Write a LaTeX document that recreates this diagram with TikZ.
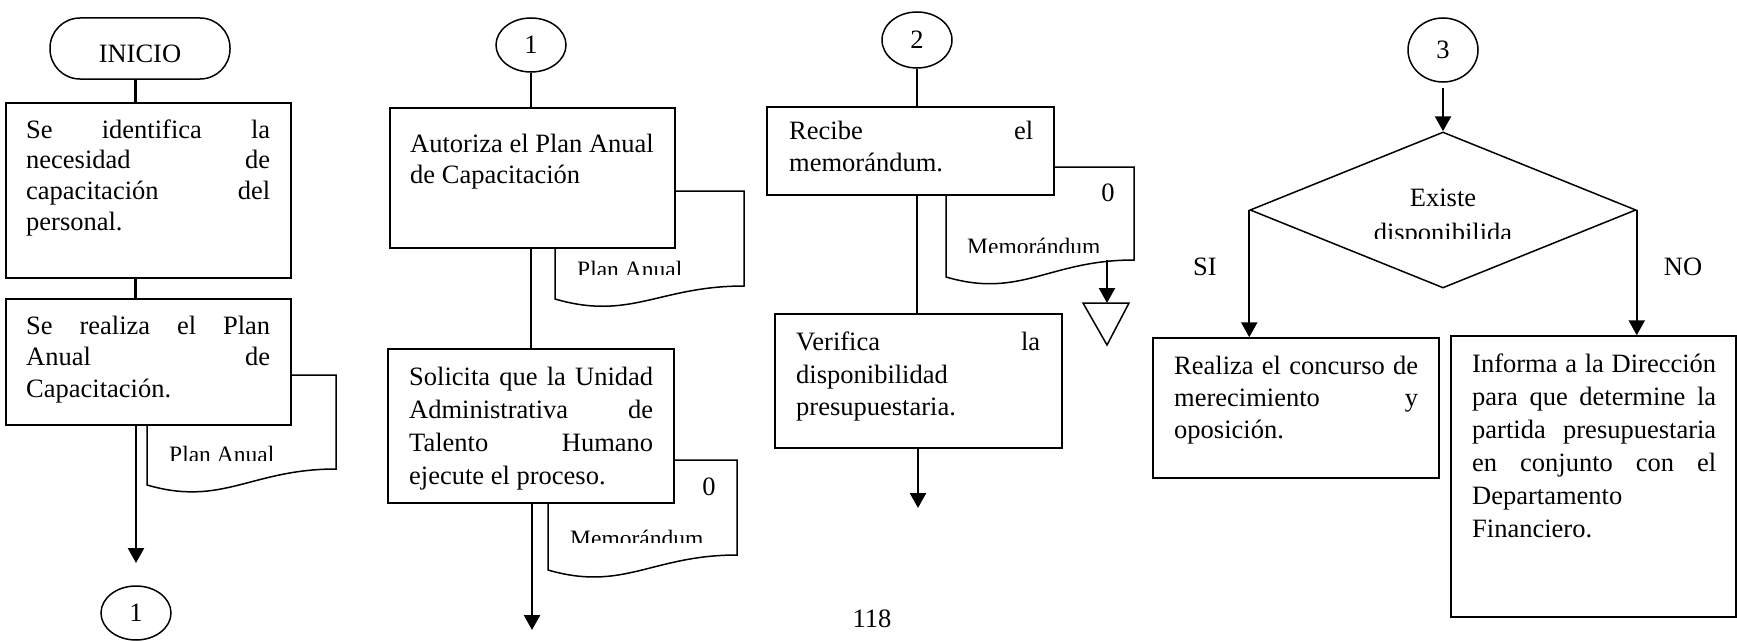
\documentclass[tikz,border=0pt]{standalone}
\usepackage{fontspec}
\setmainfont{Liberation Serif}
\usetikzlibrary{arrows.meta,shapes.geometric}
% one justified line of box text
\newcommand{\jl}[1]{\makebox[244pt][s]{#1}}
\begin{document}
\begin{tikzpicture}[x=1pt,y=-1pt,
  procbox/.style={draw,line width=1.5pt,fill=white,inner sep=0pt},
  docshape/.style={draw,line width=1.5pt,fill=white},
  circ/.style={draw,ellipse,line width=1.5pt,fill=white,inner sep=0pt,
    font=\fontsize{26.5pt}{31pt}\selectfont},
  conn/.style={line width=2.4pt},
  arr/.style={conn,-{Triangle[width=16pt,length=15pt]}},
  body/.style={anchor=north west,inner sep=0pt,align=left,
    font=\fontsize{26.5pt}{#1}\selectfont},
  big/.style={inner sep=0pt,font=\fontsize{26.5pt}{31pt}\selectfont},
  small/.style={inner sep=0pt,font=\fontsize{23.5pt}{27pt}\selectfont}]

\fill[white] (0,0) rectangle (1737,642);
\useasboundingbox (0,0) rectangle (1737,642);

% ---------- document symbols (drawn first, boxes overlap them) ----------
% Plan Anual, column 1
\draw[docshape] (147,375) -- (336,375) -- (336,469)
  .. controls (251,469) and (222.6,507) .. (147,485) -- cycle;
\begin{scope}
  \clip (140,430) rectangle (340,460);
  \node[small,anchor=base west] (pa1) at (169,462.6) {Plan Anual};
\end{scope}
% Plan Anual, column 2
\draw[docshape] (555,191) -- (744,191) -- (744,286)
  .. controls (659,286) and (630.6,321) .. (555,299) -- cycle;
\begin{scope}
  \clip (560,250) rectangle (740,274);
  \node[small,anchor=base west] (pa2) at (577,277) {Plan Anual};
\end{scope}
% Memorándum, column 2
\draw[docshape] (548,460) -- (737,460) -- (737,555)
  .. controls (652,555) and (623.6,592) .. (548,570) -- cycle;
\node[big,anchor=base] (z2) at (709,495) {0};
\begin{scope}
  \clip (555,515) rectangle (735,542.5);
  \node[small,anchor=base west] (me2) at (570,546) {Memorándum};
\end{scope}
% Memorándum, column 3
\draw[docshape] (946,167) -- (1134,167) -- (1134,260)
  .. controls (1049,260) and (1021,299) .. (946,277) -- cycle;
\node[big,anchor=base] (z3) at (1108,201) {0};
\begin{scope}
  \clip (950,225) rectangle (1130,252);
  \node[small,anchor=base west] (me3) at (967,254.6) {Memorándum};
\end{scope}
\coordinate (d3b) at (1107,260);
% archive symbol
\draw[docshape] (1083,303) -- (1129,303) -- (1107,345) -- cycle;
\coordinate (tri) at (1107,303);

% ---------- column 1 ----------
\node[procbox,rounded corners=30pt,minimum width=180pt,minimum height=61pt] (ini) at (140,48.5) {};
\node[big,anchor=base] (tini) at (140,62.5) {INICIO};
\node[procbox,minimum width=285pt,minimum height=175pt] (b1) at (148.5,190.5) {};
\node[body=30.7pt] (t1) at (26,116.5)
  {\strut\jl{Se identifica la}\\\jl{necesidad de}\\\jl{capacitación del}\\personal.};
\node[procbox,minimum width=285pt,minimum height=126pt] (b2) at (148.5,362) {};
\node[body=31.5pt] (t2) at (26,312)
  {\strut\jl{Se realiza el Plan}\\\jl{Anual de}\\Capacitación.};
\node[circ,minimum width=70pt,minimum height=54pt] (c1a) at (136,613) {1};
\coordinate (col1x) at (135.5,0);
\coordinate (e1) at (136,563);
\draw[conn] (ini.south -| col1x) -- (b1.north -| col1x);
\draw[conn] (b1.south -| col1x) -- (b2.north -| col1x);
\draw[arr] (b2.south -| e1) -- (e1);

% ---------- column 2 ----------
\node[circ,minimum width=70pt,minimum height=54pt] (c1b) at (531,45) {1};
\node[procbox,minimum width=285pt,minimum height=140pt] (ba) at (532.5,178) {};
\node[body=31pt] (t3) at (410,130.8) {\strut Autoriza el Plan Anual\\de Capacitación};
\node[procbox,minimum width=286pt,minimum height=154pt] (bs) at (531,426) {};
\node[body=33pt] (t4) at (409,361.9)
  {\strut\jl{Solicita que la Unidad}\\\jl{Administrativa de}\\\jl{Talento Humano}\\ejecute el proceso.};
\coordinate (e2) at (532,630);
\draw[conn] (c1b.south) -- (ba.north -| c1b);
\draw[conn] (ba.south -| c1b) -- (bs.north -| c1b);
\draw[arr] (bs.south -| e2) -- (e2);

% ---------- column 3 ----------
\node[circ,minimum width=70pt,minimum height=56pt] (c2) at (917,40) {2};
\node[procbox,minimum width=287pt,minimum height=88pt] (br) at (910.5,151) {};
\node[body=32pt] (t5) at (789,117.1) {\strut\jl{Recibe el}\\memorándum.};
\node[procbox,minimum width=287pt,minimum height=134pt] (bv) at (918.5,381) {};
\node[body=32.5pt] (t6) at (796,327.75)
  {\strut\jl{Verifica la}\\disponibilidad\\presupuestaria.};
\coordinate (e3) at (918,508);
\draw[conn] (c2.south) -- (br.north -| c2);
\draw[conn] (br.south -| c2) -- (bv.north -| c2);
\draw[arr] (bv.south -| e3) -- (e3);
\draw[arr] (d3b) -- (tri);
\node[big,anchor=base] (pg) at (872,627) {118};

% ---------- column 4 ----------
\node[circ,minimum width=70pt,minimum height=64pt] (c3) at (1443,50) {3};
\node[draw,diamond,line width=1.5pt,fill=white,inner sep=0pt,
  minimum width=386pt,minimum height=156pt] (dia) at (1443,210) {};
\node[big,anchor=base] (ex1) at (1443,206) {Existe};
\begin{scope}
  \clip (1340,215) rectangle (1550,238);
  \node[big,anchor=base] (ex2) at (1443,241) {disponibilida};
\end{scope}
\node[procbox,minimum width=286pt,minimum height=140pt] (rb) at (1296,408) {};
\node[body=32pt] (t7) at (1174,352.1)
  {\strut\jl{Realiza el concurso de}\\\jl{merecimiento y}\\oposición.};
\node[procbox,minimum width=285pt,minimum height=281pt] (ib) at (1593.5,476.5) {};
\node[body=33pt] (t8) at (1472,349.4)
  {\strut\jl{Informa a la Dirección}\\\jl{para que determine la}\\\jl{partida presupuestaria}\\\jl{en conjunto con el}\\Departamento\\Financiero.};
\node[big,anchor=base] (si) at (1205,275) {SI};
\node[big,anchor=base] (no) at (1683,275) {NO};
\draw[arr] ([yshift=-5pt]c3.south) -- (dia.north);
\draw[arr] (dia.west) -- (dia.west |- rb.north);
\draw[arr] (dia.east) -- (dia.east |- ib.north);
\end{tikzpicture}
\end{document}
